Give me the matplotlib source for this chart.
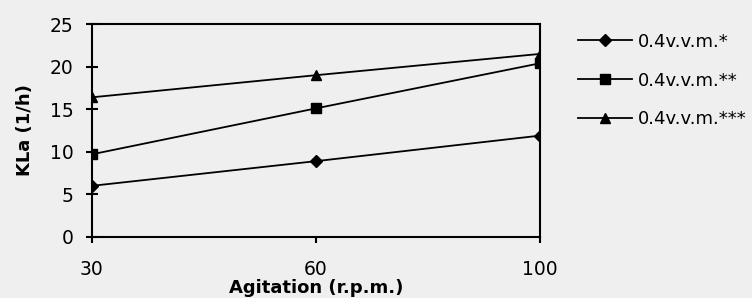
import matplotlib.pyplot as plt

plt.rcParams['font.family'] = ['DejaVu Sans']

agitation = ['30', '60', '100']
series_names = ['0.4v.v.m.*', '0.4v.v.m.**', '0.4v.v.m.***']
kla_1 = [6.0, 8.9, 11.9]
kla_2 = [9.7, 15.1, 20.4]
kla_3 = [16.4, 19.0, 21.5]

bg = '#efefef'
fig = plt.figure(figsize=(7.52, 2.98), dpi=100, facecolor=bg)
ax = fig.add_axes([0.122, 0.205, 0.596, 0.714], facecolor=bg)

xs = range(len(agitation))
ax.plot(xs, kla_1, color='black', lw=1.3, marker='D', ms=6, label=series_names[0])
ax.plot(xs, kla_2, color='black', lw=1.3, marker='s', ms=7, label=series_names[1])
ax.plot(xs, kla_3, color='black', lw=1.3, marker='^', ms=7, label=series_names[2])

ax.set_xlim(0, 2)
ax.set_ylim(0, 25)
ax.set_yticks([0, 5, 10, 15, 20, 25])
ax.set_xticks(list(xs))
ax.set_xticklabels(agitation)
for s in ax.spines.values():
    s.set_linewidth(1.5)
ax.tick_params(axis='y', direction='inout', length=8.5, width=1.5, labelsize=13.5, pad=9)
ax.tick_params(axis='x', direction='out', length=4.5, width=1.5, labelsize=13.5, pad=12)
ax.set_xlabel('Agitation (r.p.m.)', fontsize=13, fontweight='bold', labelpad=0)
ax.set_ylabel('KLa (1/h)', fontsize=13, fontweight='bold', labelpad=11)

fig.legend(loc='upper left', bbox_to_anchor=(0.769, 0.89), frameon=False,
           borderpad=0, borderaxespad=0, fontsize=13, handlelength=3.0,
           handletextpad=0.28, labelspacing=1.15)

fig.savefig('out.png', dpi=100, facecolor=bg)
